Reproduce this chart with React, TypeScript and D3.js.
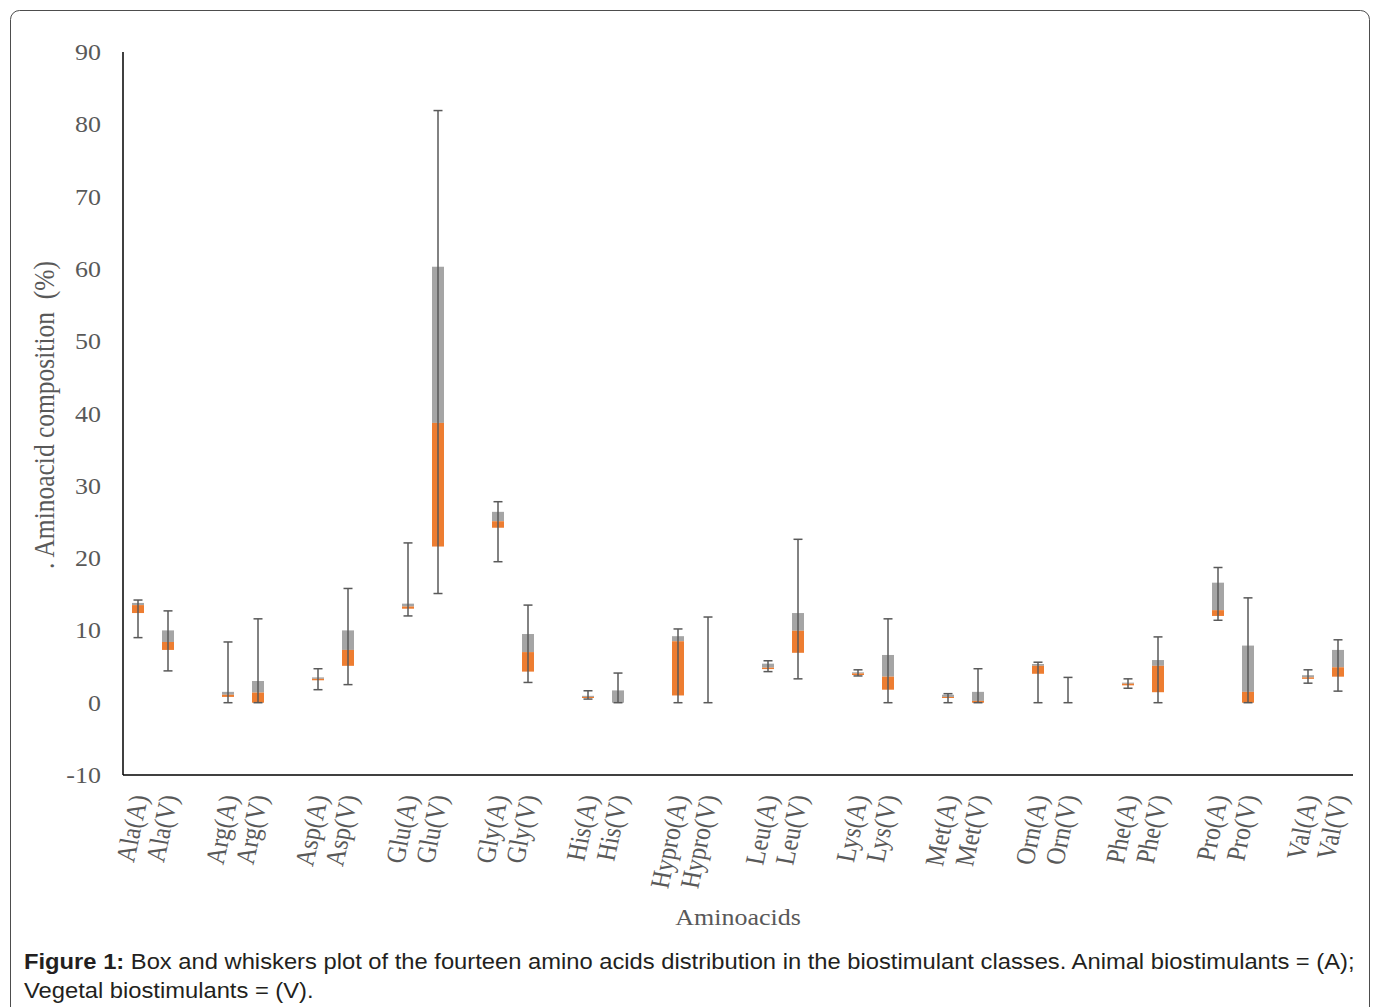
import React from "react";
import * as d3 from "d3";

// amino acids, each has an animal (A) and a vegetal (V) box
const aminoAcids = ["Ala", "Arg", "Asp", "Glu", "Gly", "His", "Hypro", "Leu", "Lys", "Met", "Orn", "Phe", "Pro", "Val"];

// animal biostimulants (A)
const aMin = [9.0, 0, 1.8, 12.0, 19.5, 0.5, 0, 4.3, 3.7, 0, 0, 2.0, 11.4, 2.7];
const aQ1 = [12.4, 0.8, 3.1, 13.0, 24.2, 0.65, 1.0, 4.65, 3.83, 0.65, 4.0, 2.4, 12.0, 3.3];
const aMed = [13.5, 1.1, 3.3, 13.3, 25.1, 0.8, 8.5, 4.85, 4.05, 0.8, 5.1, 2.63, 12.8, 3.5];
const aQ3 = [13.8, 1.5, 3.5, 13.7, 26.4, 0.95, 9.2, 5.4, 4.2, 1.1, 5.35, 2.77, 16.6, 3.8];
const aMax = [14.2, 8.4, 4.7, 22.1, 27.8, 1.65, 10.2, 5.8, 4.55, 1.25, 5.6, 3.3, 18.7, 4.55];

// vegetal biostimulants (V)
const vMin = [4.4, 0, 2.5, 15.1, 2.8, 0, 0, 3.3, 0, 0, 0, 0, 0, 1.6];
const vQ1 = [7.3, 0, 5.1, 21.6, 4.3, 0, 0, 6.9, 1.8, 0, 0, 1.45, 0, 3.6];
const vMed = [8.4, 1.4, 7.3, 38.7, 7.0, 0, 0, 9.95, 3.6, 0.25, 0, 5.1, 1.5, 4.9];
const vQ3 = [10.0, 3.0, 10.0, 60.3, 9.5, 1.7, 0, 12.4, 6.6, 1.5, 0, 5.9, 7.9, 7.3];
const vMax = [12.7, 11.6, 15.8, 81.9, 13.5, 4.1, 11.85, 22.6, 11.6, 4.7, 3.5, 9.1, 14.5, 8.7];

const yTicks = [-10, 0, 10, 20, 30, 40, 50, 60, 70, 80, 90];

const W = 1376;
const H = 1007;
const SERIF = "'Liberation Serif', 'Times New Roman', serif";
const SANS = "'Liberation Sans', Arial, sans-serif";
const TXT = "#595959";
const SX = 1.13; // the source picture is stretched a bit horizontally

const boxes = aminoAcids.flatMap((n, i) => [
  { key: `${n}(A)`, min: aMin[i], q1: aQ1[i], med: aMed[i], q3: aQ3[i], max: aMax[i] },
  { key: `${n}(V)`, min: vMin[i], q1: vQ1[i], med: vMed[i], q3: vQ3[i], max: vMax[i] },
]);

const slots = aminoAcids.flatMap((n, i) =>
  i < aminoAcids.length - 1 ? [`${n}(A)`, `${n}(V)`, `gap${i}`] : [`${n}(A)`, `${n}(V)`]
);

export default function App() {
  const x = d3.scaleBand<string>().domain(slots).range([123, 1353]).padding(0);
  const y = d3.scaleLinear().domain([-10, 90]).range([775, 52]);
  const cx = (k: string) => (x(k) ?? 0) + x.bandwidth() / 2;
  const bw = 12;
  const cap = 9;

  return (
    <svg width={W} height={H} style={{ position: "absolute", left: 0, top: 0, background: "#fff" }}>
      <rect x={10.5} y={10.5} width={1359} height={1030} rx={9} fill="#fff" stroke="#4d4d4d" strokeWidth={1} />

      {/* y ticks */}
      {yTicks.map((t) => (
        <text
          key={t}
          transform={`translate(101,${y(t)}) scale(${SX},1)`}
          textAnchor="end"
          dy="0.35em"
          fontFamily={SERIF}
          fontSize={23}
          fill={TXT}
        >
          {t}
        </text>
      ))}

      {/* y title */}
      <text
        transform={`translate(54,415) scale(${SX},1) rotate(-90)`}
        textAnchor="middle"
        fontFamily={SERIF}
        fontSize={25.5}
        fill={TXT}
        style={{ whiteSpace: "pre" }}
      >
        {". Aminoacid composition  (%)"}
      </text>

      {/* boxes */}
      {boxes.map((b) => (
        <g key={b.key}>
          <rect x={cx(b.key) - bw / 2} y={y(b.q3)} width={bw} height={y(b.med) - y(b.q3)} fill="#A5A5A5" />
          <rect x={cx(b.key) - bw / 2} y={y(b.med)} width={bw} height={y(b.q1) - y(b.med)} fill="#ED7D31" />
          <line x1={cx(b.key)} x2={cx(b.key)} y1={y(b.max)} y2={y(b.min)} stroke="#595959" strokeWidth={1.5} />
          <line x1={cx(b.key) - cap / 2} x2={cx(b.key) + cap / 2} y1={y(b.max)} y2={y(b.max)} stroke="#595959" strokeWidth={1.5} />
          <line x1={cx(b.key) - cap / 2} x2={cx(b.key) + cap / 2} y1={y(b.min)} y2={y(b.min)} stroke="#595959" strokeWidth={1.5} />
        </g>
      ))}

      {/* axes */}
      <line x1={123} x2={123} y1={52} y2={775} stroke="#000" strokeWidth={1.5} />
      <line x1={123} x2={1353} y1={775} y2={775} stroke="#000" strokeWidth={1.5} />

      {/* category labels */}
      {boxes.map((b) => (
        <text
          key={b.key}
          transform={`translate(${cx(b.key) + 1},795) scale(${SX},1) rotate(-79)`}
          textAnchor="end"
          dy="0.35em"
          fontFamily={SERIF}
          fontSize={24}
          fill={TXT}
        >
          {b.key}
        </text>
      ))}

      {/* x title */}
      <text
        transform={`translate(738,925) scale(${SX},1)`}
        textAnchor="middle"
        fontFamily={SERIF}
        fontSize={23}
        fill={TXT}
      >
        Aminoacids
      </text>

      {/* caption */}
      <g transform="translate(24,0) scale(1.08,1)">
        <text x={0} y={969} fontFamily={SANS} fontSize={22} fill="#231f20">
          <tspan fontWeight="bold">Figure 1:</tspan>
          <tspan> Box and whiskers plot of the fourteen amino acids distribution in the biostimulant classes. Animal biostimulants = (A);</tspan>
        </text>
        <text x={0} y={998} fontFamily={SANS} fontSize={22} fill="#231f20">
          Vegetal biostimulants = (V).
        </text>
      </g>
    </svg>
  );
}
